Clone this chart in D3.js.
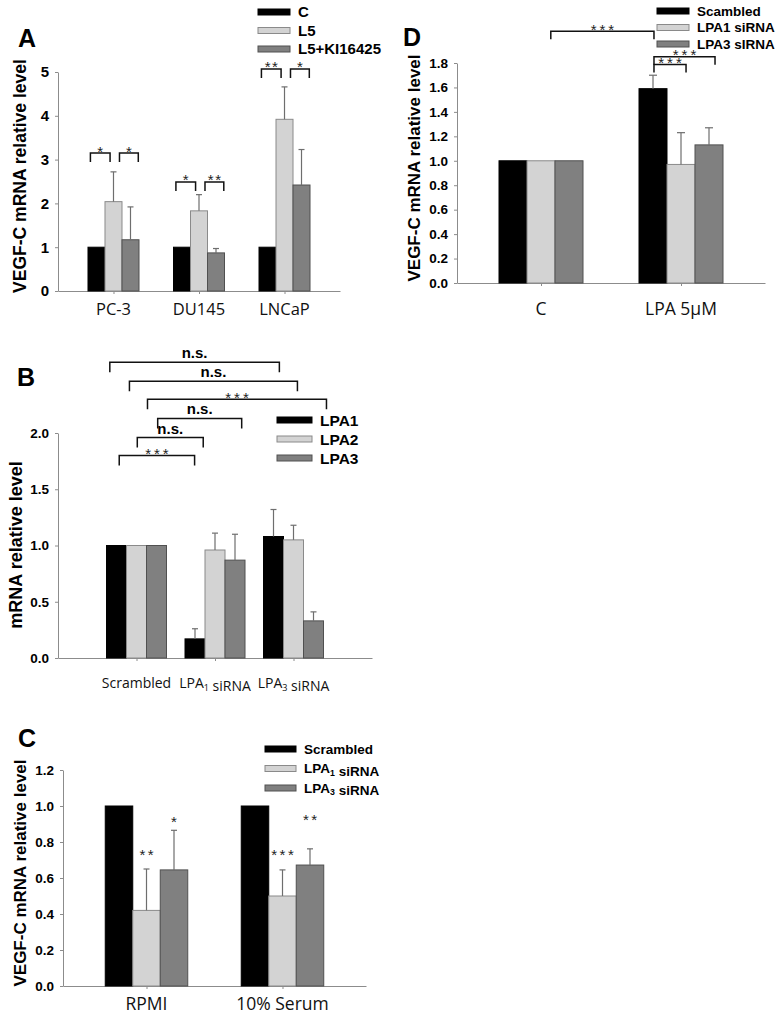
<!DOCTYPE html>
<html><head><meta charset="utf-8">
<script src="https://cdn.jsdelivr.net/npm/d3@7"></script>
<style>body{margin:0;background:#fff}svg{display:block}</style>
</head><body>
<svg id="c" width="782" height="1015"></svg>
<script>
// ---------- DATA ----------
// Panel A
const aCategories = ["PC-3", "DU145", "LNCaP"];
const aSeries = ["C", "L5", "L5+KI16425"];
const aValues = [[1, 2.04, 1.17], [1, 1.83, 0.87], [1, 3.92, 2.42]];
const aErrors = [[0, 0.68, 0.75], [0, 0.37, 0.10], [0, 0.74, 0.81]];
const aTicks = [0, 1, 2, 3, 4, 5];
const aBrackets = [
  {from: -0.27, to: -0.04, level: 3.15, label: "*"},
  {from: 0.07, to: 0.29, level: 3.15, label: "*"},
  {from: 0.73, to: 0.96, level: 2.49, label: "*"},
  {from: 1.07, to: 1.29, level: 2.49, label: "**"},
  {from: 1.73, to: 1.96, level: 5.07, label: "**"},
  {from: 2.07, to: 2.29, level: 5.07, label: "*"}
];
// Panel B
const bCategories = ["Scrambled", "LPA_1 siRNA", "LPA_3 siRNA"];
const bSeries = ["LPA1", "LPA2", "LPA3"];
const bValues = [[1, 1, 1], [0.17, 0.96, 0.87], [1.08, 1.05, 0.33]];
const bErrors = [[0, 0, 0], [0.09, 0.15, 0.23], [0.24, 0.13, 0.08]];
const bTicks = [0, 0.5, 1.0, 1.5, 2.0];
const bBrackets = [
  {from: -0.34, to: 1.82, level: 2.63, label: "n.s."},
  {from: -0.09, to: 2.05, level: 2.46, label: "n.s."},
  {from: 0.14, to: 2.42, level: 2.30, label: "***"},
  {from: 0.27, to: 1.34, level: 2.13, label: "n.s."},
  {from: 0.01, to: 0.85, level: 1.96, label: "n.s."},
  {from: -0.22, to: 0.74, level: 1.80, label: "***"}
];
// Panel C
const cCategories = ["RPMI", "10% Serum"];
const cSeries = ["Scrambled", "LPA_1 siRNA", "LPA_3 siRNA"];
const cValues = [[1, 0.42, 0.645], [1, 0.50, 0.672]];
const cErrors = [[0, 0.23, 0.22], [0, 0.145, 0.09]];
const cTicks = [0, 0.2, 0.4, 0.6, 0.8, 1.0, 1.2];
const cStars = [
  {group: 0, bar: 1, level: 0.70, label: "**"},
  {group: 0, bar: 2, level: 0.886, label: "*"},
  {group: 1, bar: 1, level: 0.70, label: "***"},
  {group: 1, bar: 2, level: 0.897, label: "**"}
];
// Panel D
const dCategories = ["C", "LPA 5µM"];
const dSeries = ["Scambled", "LPA1 siRNA", "LPA3 sIRNA"];
const dValues = [[1, 1, 1], [1.59, 0.97, 1.13]];
const dErrors = [[0, 0, 0], [0.11, 0.26, 0.14]];
const dTicks = [0, 0.2, 0.4, 0.6, 0.8, 1.0, 1.2, 1.4, 1.6, 1.8];
const dBrackets = [
  {from: 0.07, to: 0.807, level: 2.06, label: "***"},
  {from: 0.807, to: 1.243, level: 1.852, label: "***"},
  {from: 0.807, to: 1.036, level: 1.787, label: "***"}
];

// ---------- STYLE ----------
const fills = ["#000000", "#d3d3d3", "#808080"];
const strokes = ["#000000", "#8a8a8a", "#505050"];
const BOLD = "'Liberation Sans', Arial, sans-serif";
const REG = "'Open Sans', sans-serif";
const svg = d3.select("#c");

function richText(sel, str, subSize) {
  const parts = str.split(/_(\d)/);
  parts.forEach((p, i) => {
    if (p === "") return;
    if (i % 2 === 1) {
      sel.append("tspan").attr("dy", "0.3em").attr("font-size", subSize).text(p);
      sel.append("tspan").attr("dy", "-0.3em").text("");
    } else sel.append("tspan").text(p);
  });
}

function panel(o) {
  const g = svg.append("g");
  const y = d3.scaleLinear().domain([0, o.ticks[o.ticks.length - 1]]).range([o.y0, o.yTop]);
  const x = d3.scalePoint().domain(o.cats).range([o.x0, o.x1]).padding(o.pad);
  const inner = d3.scaleBand().domain(o.series).range([-1.5 * o.bw, 1.5 * o.bw]);
  const xi = d3.scaleLinear().domain([0, 1]).range([x(o.cats[0]), x(o.cats[1])]);

  // y axis
  const ya = g.append("g").attr("transform", `translate(${o.x0},0)`)
    .call(d3.axisLeft(y).tickValues(o.ticks).tickFormat(o.fmt).tickSize(3).tickSizeOuter(0).tickPadding(6));
  ya.select(".domain").attr("stroke", "#8c8c8c");
  ya.selectAll(".tick line").attr("stroke", "#8c8c8c");
  ya.selectAll(".tick text").attr("font-family", BOLD).attr("font-weight", "bold")
    .attr("font-size", o.tickFs).attr("fill", "#000");

  // x axis
  const xa = g.append("g").attr("transform", `translate(0,${o.y0})`)
    .call(d3.axisBottom(x).tickSize(3).tickSizeOuter(0).tickFormat(""));
  xa.select(".domain").attr("stroke", "#8c8c8c");
  xa.selectAll(".tick line").attr("stroke", "#8c8c8c");
  o.cats.forEach(c => {
    const t = g.append("text").attr("x", x(c)).attr("y", o.catY).attr("text-anchor", "middle")
      .attr("font-family", REG).attr("font-size", o.catFs).attr("fill", "#111");
    richText(t, c, o.catFs * 0.65);
  });

  // bars
  o.values.forEach((row, gi) => {
    row.forEach((v, si) => {
      const cx = x(o.cats[gi]) + inner(o.series[si]);
      g.append("rect").attr("x", cx).attr("width", inner.bandwidth())
        .attr("y", y(v)).attr("height", y(0) - y(v))
        .attr("fill", fills[si]).attr("stroke", strokes[si]).attr("stroke-width", 1);
      const e = o.errors[gi][si];
      if (e > 0) {
        const mx = cx + inner.bandwidth() / 2;
        g.append("line").attr("x1", mx).attr("x2", mx).attr("y1", y(v)).attr("y2", y(v + e))
          .attr("stroke", "#6e6e6e").attr("stroke-width", 1.2);
        g.append("line").attr("x1", mx - o.cap).attr("x2", mx + o.cap).attr("y1", y(v + e)).attr("y2", y(v + e))
          .attr("stroke", "#6e6e6e").attr("stroke-width", 1.2);
      }
    });
  });

  const starOff = o.starFs * 0.57 - 5;
  // brackets
  (o.brackets || []).forEach(b => {
    const x1 = xi(b.from), x2 = xi(b.to), by = y(b.level);
    g.append("path").attr("d", `M${x1},${by + o.leg}V${by}H${x2}V${by + o.leg}`)
      .attr("fill", "none").attr("stroke", "#111").attr("stroke-width", 1.5);
    const mx = (x1 + x2) / 2;
    if (b.label === "n.s.") {
      g.append("text").attr("x", mx).attr("y", by - 4).attr("text-anchor", "middle")
        .attr("font-family", BOLD).attr("font-weight", "bold").attr("font-size", 15).text("n.s.");
    } else {
      g.append("text").attr("x", mx + o.starLs / 2).attr("y", by + starOff).attr("text-anchor", "middle")
        .attr("font-family", BOLD).attr("font-size", o.starFs).attr("fill", "#222")
        .attr("letter-spacing", o.starLs).text(b.label);
    }
  });
  (o.stars || []).forEach(s => {
    const mx = x(o.cats[s.group]) + inner(o.series[s.bar]) + inner.bandwidth() / 2;
    g.append("text").attr("x", mx + o.starLs / 2).attr("y", y(s.level)).attr("text-anchor", "middle")
      .attr("font-family", BOLD).attr("font-size", o.starFs).attr("fill", "#222")
      .attr("letter-spacing", o.starLs).text(s.label);
  });

  // legend
  o.series.forEach((s, i) => {
    const ly = o.legY + i * o.legDy;
    g.append("rect").attr("x", o.legX).attr("y", ly - 3).attr("width", o.legW).attr("height", 6)
      .attr("fill", fills[i]).attr("stroke", strokes[i]).attr("stroke-width", 1);
    const t = g.append("text").attr("x", o.legX + o.legW + 8).attr("y", ly + o.legFs * 0.36)
      .attr("font-family", BOLD).attr("font-weight", "bold").attr("font-size", o.legFs);
    richText(t, s, o.legFs * 0.65);
  });

  // panel letter
  g.append("text").attr("x", o.letterX).attr("y", o.letterY).attr("font-family", BOLD)
    .attr("font-weight", "bold").attr("font-size", 25).text(o.letter);
  // y title
  g.append("text").attr("transform", `translate(${o.titleX},${o.titleY}) rotate(-90)`)
    .attr("text-anchor", "middle").attr("dominant-baseline", "central")
    .attr("font-family", BOLD).attr("font-weight", "bold").attr("font-size", o.titleFs).text(o.title);
}

panel({letter: "A", letterX: 18, letterY: 47, cats: aCategories, series: aSeries, values: aValues,
  errors: aErrors, ticks: aTicks, fmt: d3.format("d"), x0: 58, x1: 340, pad: 0.649, y0: 291, yTop: 72,
  bw: 17, cap: 3, leg: 9, tickFs: 15, catFs: 16.5, catY: 315, starFs: 15, starLs: 1.5,
  brackets: aBrackets, legX: 258, legY: 12, legDy: 18.5, legW: 32, legFs: 15,
  title: "VEGF-C mRNA relative level", titleX: 20, titleY: 176, titleFs: 17.5});

panel({letter: "D", letterX: 403, letterY: 46, cats: dCategories, series: dSeries, values: dValues,
  errors: dErrors, ticks: dTicks, fmt: d3.format(".1f"), x0: 457, x1: 765, pad: 0.6, y0: 283, yTop: 63,
  bw: 28, cap: 4, leg: 8, tickFs: 13.5, catFs: 17.5, catY: 315, starFs: 15, starLs: 3,
  brackets: dBrackets, legX: 657, legY: 11, legDy: 16.5, legW: 32, legFs: 13.5,
  title: "VEGF-C mRNA relative level", titleX: 414, titleY: 168, titleFs: 17});

panel({letter: "B", letterX: 17, letterY: 386, cats: bCategories, series: bSeries, values: bValues,
  errors: bErrors, ticks: bTicks, fmt: d3.format(".1f"), x0: 58, x1: 372, pad: 1, y0: 658, yTop: 433,
  bw: 20, cap: 3, leg: 10, tickFs: 13.5, catFs: 14, catY: 688, starFs: 15, starLs: 3,
  brackets: bBrackets, legX: 277, legY: 420, legDy: 19, legW: 35, legFs: 15.5,
  title: "mRNA relative level", titleX: 16, titleY: 545, titleFs: 18});

panel({letter: "C", letterX: 18, letterY: 747, cats: cCategories, series: cSeries, values: cValues,
  errors: cErrors, ticks: cTicks, fmt: d3.format(".1f"), x0: 63, x1: 366, pad: 0.614, y0: 986, yTop: 770,
  bw: 27.5, cap: 3, leg: 10, tickFs: 13.5, catFs: 17.5, catY: 1010, starFs: 15, starLs: 2.5,
  stars: cStars, legX: 265, legY: 749, legDy: 19.5, legW: 31, legFs: 13.5,
  title: "VEGF-C mRNA relative level", titleX: 20, titleY: 873, titleFs: 17});
</script>
</body></html>
